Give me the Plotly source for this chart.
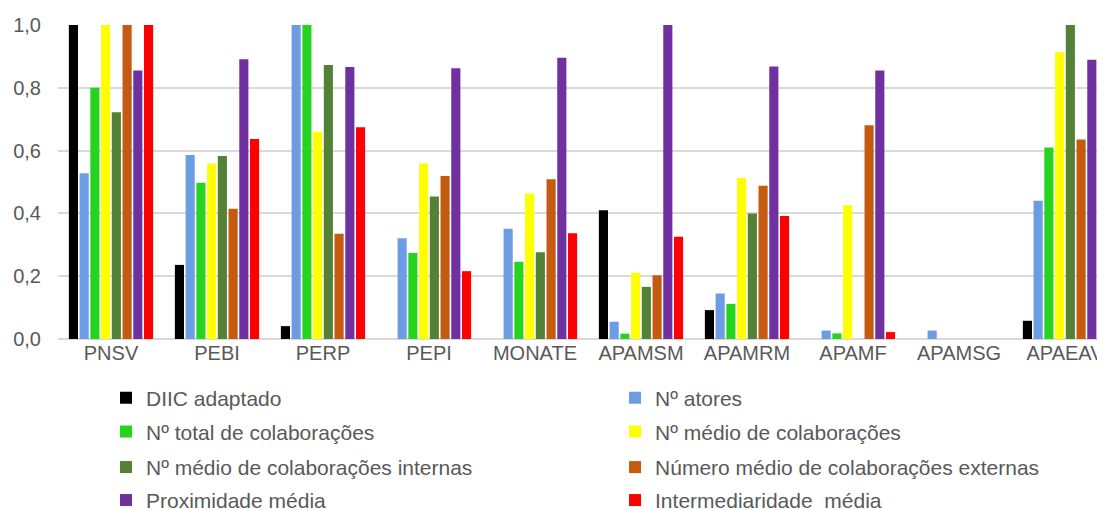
import plotly.graph_objects as go

# categorias (unidades) e séries
categorias = ["PNSV", "PEBI", "PERP", "PEPI", "MONATE", "APAMSM", "APAMRM", "APAMF", "APAMSG", "APAEAV"]

diic = [1.0, 0.236, 0.041, 0, 0, 0.41, 0.092, 0, 0, 0.058]
n_atores = [0.528, 0.586, 1.0, 0.321, 0.351, 0.055, 0.145, 0.027, 0.027, 0.44]
n_total_colab = [0.80, 0.498, 1.0, 0.274, 0.246, 0.017, 0.112, 0.018, 0, 0.61]
n_medio_colab = [1.0, 0.559, 0.66, 0.559, 0.463, 0.211, 0.513, 0.426, 0, 0.914]
n_medio_internas = [0.722, 0.583, 0.873, 0.454, 0.276, 0.166, 0.40, 0, 0, 1.0]
n_medio_externas = [1.0, 0.415, 0.335, 0.519, 0.509, 0.203, 0.488, 0.681, 0, 0.635]
proximidade = [0.855, 0.891, 0.866, 0.862, 0.896, 1.0, 0.868, 0.855, 0, 0.889]
intermediaridade = [1.0, 0.637, 0.674, 0.216, 0.337, 0.326, 0.392, 0.022, 0, 0.672]

series = [
    ("DIIC adaptado", diic, "#000000"),
    ("Nº atores", n_atores, "#6C9CE4"),
    ("Nº total de colaborações", n_total_colab, "#26D41F"),
    ("Nº médio de colaborações", n_medio_colab, "#FFFF00"),
    ("Nº médio de colaborações internas", n_medio_internas, "#538135"),
    ("Número médio de colaborações externas", n_medio_externas, "#C55A11"),
    ("Proximidade média", proximidade, "#7030A0"),
    ("Intermediaridade\u00a0 média", intermediaridade, "#FF0000"),
]

fonte = dict(family="Liberation Sans, Arial", size=20, color="#595959")
fonte_leg = dict(family="Liberation Sans, Arial", size=21, color="#595959")

# uma legenda por entrada: 2 colunas x 4 linhas
col_x = [0.0455, 0.528]
linha_y = [-0.188, -0.296, -0.409, -0.514]

fig = go.Figure()
legendas = {}
for i, (nome, valores, cor) in enumerate(series):
    leg = "legend" if i == 0 else "legend%d" % (i + 1)
    fig.add_trace(go.Bar(x=categorias, y=valores, name=nome, marker_color=cor,
                         marker_line_width=0, legend=leg, showlegend=True))
    legendas[leg] = dict(orientation="v", x=col_x[i % 2], y=linha_y[i // 2],
                         xanchor="left", yanchor="middle", font=fonte_leg,
                         bgcolor="rgba(0,0,0,0)", itemwidth=30, visible=True)

fig.update_layout(
    width=1105, height=510,
    margin=dict(l=50, r=0, t=17, b=179, autoexpand=False),
    paper_bgcolor="white", plot_bgcolor="white",
    barmode="group", bargap=0.19, bargroupgap=0.15,
    separators=",.",
    font=fonte,
    showlegend=True,
    **legendas,
)
fig.update_xaxes(range=[-0.5, 9.453], showgrid=False, showline=False,
                 tickfont=fonte, ticks="", automargin=False)
fig.update_yaxes(range=[0, 1.0], dtick=0.2, tickformat=".1f", showgrid=True,
                 gridcolor="#D9D9D9", gridwidth=1.5, zeroline=True,
                 zerolinecolor="#D9D9D9", zerolinewidth=1.5, tickfont=fonte,
                 ticks="", ticklabelstandoff=16, automargin=False)

fig.write_html("out.html")
